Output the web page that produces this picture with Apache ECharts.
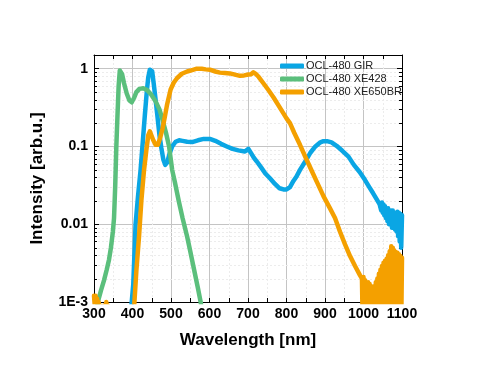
<!DOCTYPE html>
<html>
<head>
<meta charset="utf-8">
<script src="https://cdn.jsdelivr.net/npm/echarts@6/dist/echarts.min.js"></script>
<style>html,body{margin:0;padding:0;background:#fff}#c{width:477px;height:389px}</style>
</head>
<body>
<div id="c"></div>
<script>
// ---- data (wavelength nm, intensity arb.u.) ----
const xTicks = [300, 400, 500, 600, 700, 800, 900, 1000, 1100];
const yTickLabels = {'0': '1', '-1': '0.1', '-2': '0.01', '-3': '1E-3'};
const minorY = [0.002,0.003,0.004,0.005,0.006,0.007,0.008,0.009,
                0.02,0.03,0.04,0.05,0.06,0.07,0.08,0.09,
                0.2,0.3,0.4,0.5,0.6,0.7,0.8,0.9];
const seriesNames = ['OCL-480 GIR', 'OCL-480 XE428', 'OCL-480 XE650BR'];

const gir = [
 [395,0.0007],[398,0.001],[402,0.0017],[408,0.01],[414,0.022],[421,0.05],[427,0.12],[432,0.25],
 [437,0.5],[441,0.78],[445,0.97],[448,1.0],[451,0.93],[455,0.65],[460,0.4],[465,0.24],[470,0.14],
 [475,0.095],[480,0.068],[485,0.058],[490,0.062],[496,0.08],[503,0.1],[512,0.115],[521,0.12],
 [530,0.118],[542,0.115],[555,0.114],[570,0.12],[585,0.125],[601,0.125],[615,0.118],[630,0.108],
 [645,0.1],[660,0.093],[675,0.089],[692,0.086],[697,0.09],[701,0.093],[708,0.082],[715,0.072],
 [723,0.064],[735,0.053],[745,0.045],[757,0.039],[770,0.033],[782,0.029],[792,0.028],[800,0.028],
 [809,0.03],[818,0.036],[826,0.041],[835,0.05],[845,0.06],[852,0.068],[862,0.083],[875,0.1],
 [888,0.113],[896,0.117],[905,0.117],[917,0.113],[930,0.102],[945,0.088],[961,0.074],[975,0.058],
 [990,0.047],[1004,0.037],[1015,0.03],[1025,0.025],[1034,0.021],[1042,0.018],
 [1044,0.019],[1046,0.015],[1048,0.019],[1050,0.014],[1052,0.018],[1054,0.013],[1056,0.017],
 [1058,0.012],[1060,0.016],[1062,0.011],[1064,0.016],[1066,0.010],[1068,0.015],[1070,0.010],
 [1072,0.015],[1074,0.009],[1076,0.015],[1078,0.009],[1080,0.014],[1082,0.0085],[1084,0.014],
 [1086,0.008],[1088,0.0145],[1090,0.007],[1092,0.014],[1094,0.006],[1096,0.0135],[1098,0.005],
 [1100,0.013]
];

const xe428 = [
 [308,0.0008],[310,0.001],[318,0.0014],[326,0.0019],[333,0.0026],[339,0.0035],[344,0.005],
 [349,0.008],[352,0.012],[355,0.03],[358,0.1],[361,0.25],[364,0.6],[367,0.95],[370,1.0],
 [373,0.85],[378,0.65],[385,0.48],[392,0.39],[398,0.37],[404,0.42],[410,0.5],[418,0.55],
 [428,0.56],[438,0.53],[448,0.47],[460,0.38],[470,0.3],[477,0.23],[487,0.15],[495,0.1],
 [503,0.05],[510,0.035],[520,0.02],[530,0.012],[542,0.0069],[550,0.0045],[560,0.0026],
 [570,0.0015],[577,0.001],[580,0.0008]
];

const xe650br = [
 [300,0.0012],[302,0.0009],[304,0.0012],[306,0.0009],[308,0.0011],[310,0.0008],[312,0.001],
 [314,0.0007],[316,0.0009],[318,0.0006],[320,0.0008],[322,0.0005],[324,0.0007],[326,0.0009],
 [328,0.0006],[330,0.0008],[332,0.001],[334,0.0006],[336,0.0009],[338,0.0005],[340,0.0007],
 [345,0.0004],[402,0.0005],[405,0.001],[410,0.0025],[417,0.007],[423,0.02],[430,0.05],[436,0.09],
 [441,0.14],[445,0.156],[449,0.15],[454,0.12],[460,0.105],[466,0.105],[472,0.13],[478,0.17],
 [484,0.24],[490,0.35],[499,0.54],[507,0.66],[516,0.76],[528,0.86],[542,0.92],[555,0.96],
 [567,1.0],[580,1.0],[590,0.98],[601,0.97],[615,0.92],[627,0.89],[640,0.88],[653,0.87],
 [666,0.84],[679,0.81],[690,0.82],[701,0.84],[708,0.85],[714,0.9],[720,0.86],[728,0.78],
 [740,0.65],[752,0.54],[766,0.43],[782,0.32],[800,0.23],[809,0.2],[820,0.15],[835,0.105],
 [852,0.068],[866,0.048],[880,0.034],[896,0.023],[913,0.016],[926,0.012],[939,0.008],
 [952,0.0055],[965,0.0039],[978,0.0029],[991,0.0022],
 [996,0.002],[998,0.0005],[1000,0.0021],[1002,0.0005],[1004,0.0019],[1006,0.0004],[1008,0.0018],
 [1010,0.0005],[1012,0.0018],[1014,0.0004],[1016,0.0017],[1018,0.0005],[1020,0.0016],[1022,0.0004],
 [1024,0.0015],[1026,0.0005],[1028,0.0016],[1030,0.0004],[1032,0.0018],[1034,0.0005],[1036,0.002],
 [1038,0.0004],[1040,0.0023],[1042,0.0005],[1044,0.0026],[1046,0.0004],[1048,0.0029],[1050,0.0005],
 [1052,0.0032],[1054,0.0004],[1056,0.0034],[1058,0.0005],[1060,0.0036],[1062,0.0004],[1064,0.004],
 [1066,0.0005],[1068,0.0045],[1070,0.0004],[1072,0.0052],[1074,0.0005],[1076,0.005],[1078,0.0004],
 [1080,0.0046],[1082,0.0005],[1084,0.0044],[1086,0.0004],[1088,0.0043],[1090,0.0005],[1092,0.0041],
 [1094,0.0004],[1096,0.0039],[1098,0.0005],[1100,0.0037]
];

const colors = ['#0aa6e4', '#5bbf7c', '#f4a000'];
const font = 'Liberation Sans, Arial, sans-serif';

const chart = echarts.init(document.getElementById('c'), null, {renderer: 'canvas'});

function yLabel(v) {
  const e = Math.round(Math.log10(v));
  if (Math.abs(Math.log10(v) - e) > 0.01) return '';
  return yTickLabels[String(e)] !== undefined ? yTickLabels[String(e)] : '';
}

const lineSeries = [gir, xe428, xe650br].map((d, i) => ({
  name: seriesNames[i], type: 'line', data: d, showSymbol: false, symbol: 'none',
  clip: true, z: 3 + i, lineStyle: {width: 4.5, color: colors[i], join: 'round', cap: 'round'},
  itemStyle: {color: colors[i]}, animation: false
}));

chart.setOption({
  animation: false,
  grid: {left: 94, right: 75, top: 55, bottom: 87, containLabel: false},
  legend: {
    data: seriesNames, orient: 'vertical', left: 275, top: 55,
    itemWidth: 24, itemHeight: 5, itemGap: 1, icon: 'roundRect',
    textStyle: {fontFamily: font, fontSize: 11, color: '#222', lineHeight: 12, padding: [0,0,0,-3]},
    selectedMode: false
  },
  xAxis: [{
    type: 'value', min: 300, max: 1100, interval: 100, position: 'bottom',
    axisLine: {show: true, onZero: false, lineStyle: {color: '#000', width: 1}},
    axisTick: {show: true, inside: true, length: 4, lineStyle: {color: '#000'}},
    minorTick: {show: true, splitNumber: 2, length: 4, lineStyle: {color: '#000'}},
    axisLabel: {fontFamily: font, fontSize: 14, fontWeight: 'bold', color: '#000', margin: 5,
      formatter: v => xTicks.indexOf(v) >= 0 ? String(v) : ''},
    splitLine: {show: true, lineStyle: {color: '#c4c4c4', width: 1}},
    minorSplitLine: {show: true, lineStyle: {color: '#ececec', width: 1, type: [2, 2]}},
    name: 'Wavelength [nm]', nameLocation: 'middle', nameGap: 30,
    nameTextStyle: {fontFamily: font, fontSize: 17, fontWeight: 'bold', color: '#000'}
  }, {
    type: 'value', min: 300, max: 1100, interval: 50, position: 'top',
    axisLine: {show: true, onZero: false, lineStyle: {color: '#000', width: 1}},
    axisTick: {show: true, inside: true, length: 4, lineStyle: {color: '#000'}},
    axisLabel: {show: false}, splitLine: {show: false}
  }],
  yAxis: [{
    type: 'log', logBase: 10, min: 0.001, max: 1.5, position: 'left',
    axisLine: {show: true, onZero: false, lineStyle: {color: '#000', width: 1}},
    axisTick: {show: true, inside: true, length: 5, lineStyle: {color: '#000'}},
    axisLabel: {fontFamily: font, fontSize: 14, fontWeight: 'bold', color: '#000', margin: 6,
      formatter: yLabel, showMaxLabel: false},
    splitLine: {show: true, lineStyle: {color: '#c4c4c4', width: 1}},
    name: 'Intensity [arb.u.]', nameLocation: 'middle', nameGap: 48, nameRotate: 90,
    nameTextStyle: {fontFamily: font, fontSize: 17, fontWeight: 'bold', color: '#000'}
  }, {
    type: 'log', logBase: 10, min: 0.001, max: 1.5, position: 'right',
    axisLine: {show: true, onZero: false, lineStyle: {color: '#000', width: 1}},
    axisTick: {show: true, inside: true, length: 5, lineStyle: {color: '#000'}},
    axisLabel: {show: false}, splitLine: {show: false}
  }],
  series: [{
    type: 'custom', silent: true, z: 1, xAxisIndex: 0, yAxisIndex: 0, clip: false,
    data: minorY.map(v => [300, v]),
    encode: {x: 0, y: 1},
    renderItem: function (params, api) {
      const cs = params.coordSys;
      const p = api.coord([api.value(0), api.value(1)]);
      const y = Math.round(p[1]) + 0.5;
      return {type: 'group', children: [
        {type: 'line', shape: {x1: cs.x, y1: y, x2: cs.x + cs.width, y2: y},
          style: {stroke: '#ececec', lineWidth: 1, lineDash: [2, 2]}},
        {type: 'line', shape: {x1: cs.x, y1: y, x2: cs.x + 3, y2: y},
          style: {stroke: '#000', lineWidth: 1}},
        {type: 'line', shape: {x1: cs.x + cs.width - 3, y1: y, x2: cs.x + cs.width, y2: y},
          style: {stroke: '#000', lineWidth: 1}}
      ]};
    }
  }].concat(lineSeries)
});
</script>
</body>
</html>
